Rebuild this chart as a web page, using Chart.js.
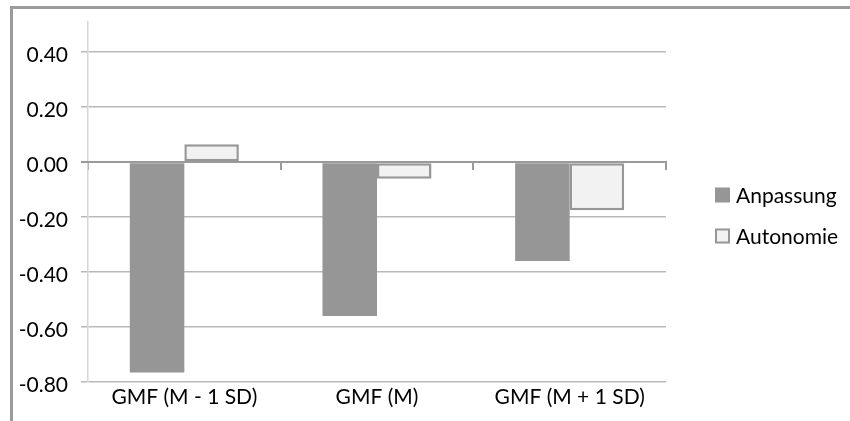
<!DOCTYPE html>
<html>
<head>
<meta charset="utf-8">
<script src="https://cdn.jsdelivr.net/npm/chart.js@4/dist/chart.umd.min.js"></script>
<style>
  html, body { margin: 0; padding: 0; background: #fff; }
  #wrap { position: relative; width: 850px; height: 421px; overflow: hidden; }
  #frame { position: absolute; left: 10px; top: 6px; width: 1000px; height: 1000px;
           border-left: 3px solid #9b9b9b; border-top: 3px solid #9b9b9b; }
  canvas { position: absolute; left: 0; top: 0; }
</style>
</head>
<body>
<div id="wrap">
  <div id="frame"></div>
  <canvas id="chart" width="850" height="421"></canvas>
</div>
<script>
// Categories and series values
const categories = ['GMF (M - 1 SD)', 'GMF (M)', 'GMF (M + 1 SD)'];
const anpassung = [-0.765, -0.56, -0.36];
const autonomie = [0.065, -0.06, -0.175];
const yTicks = [-0.8, -0.6, -0.4, -0.2, 0, 0.2, 0.4];

const FONT = 'Lato, "Open Sans", sans-serif';

// Legend drawn to the right of the plot, one row per dataset
const sideLegend = {
  id: 'sideLegend',
  afterDraw(chart, args, opts) {
    const ctx = chart.ctx;
    chart.data.datasets.forEach((ds, i) => {
      const cy = opts.top + i * opts.spacing;
      const x = opts.left, s = opts.box;
      ctx.save();
      ctx.fillStyle = ds.backgroundColor;
      ctx.fillRect(x, cy - s / 2, s, s);
      if (ds.borderWidth) {
        ctx.strokeStyle = ds.borderColor;
        ctx.lineWidth = 2;
        ctx.strokeRect(x + 1, cy - s / 2 + 1, s - 2, s - 2);
      }
      ctx.fillStyle = '#000';
      ctx.font = opts.fontSize + 'px ' + FONT;
      ctx.textBaseline = 'middle';
      ctx.fillText(ds.label, x + s + opts.gap, cy + 1);
      ctx.restore();
    });
  }
};

new Chart(document.getElementById('chart'), {
  type: 'bar',
  data: {
    labels: categories,
    datasets: [
      {
        label: 'Anpassung',
        data: anpassung,
        backgroundColor: '#969696',
        borderWidth: 0
      },
      {
        label: 'Autonomie',
        data: autonomie,
        backgroundColor: '#f2f2f2',
        borderColor: '#979797',
        borderWidth: 2.5,
        borderSkipped: false
      }
    ]
  },
  options: {
    responsive: false,
    animation: false,
    layout: { padding: { top: 22, right: 184, bottom: 0, left: 0 } },
    datasets: { bar: { categoryPercentage: 0.566, barPercentage: 1 } },
    plugins: {
      legend: { display: false },
      tooltip: { enabled: false },
      sideLegend: { left: 715, top: 195, spacing: 41, box: 15, gap: 6, fontSize: 21 }
    },
    scales: {
      y: {
        min: -0.8,
        max: 0.51,
        afterBuildTicks: s => { s.ticks = yTicks.map(v => ({ value: v })); },
        afterFit: s => { s.width = 88; s.paddingTop = 0; s.paddingBottom = 0; },
        grid: {
          color: c => (c.tick && c.tick.value === 0) ? '#9a9a9a' : '#b9b9b9',
          lineWidth: c => (c.tick && c.tick.value === 0) ? 2 : 1.5,
          tickLength: 7
        },
        border: { color: '#d6d6d6', width: 1.5 },
        ticks: {
          padding: 13,
          labelOffset: 3,
          color: '#000',
          font: { family: FONT, size: 21 },
          callback: v => Number(v).toFixed(2)
        }
      },
      x: {
        type: 'category',
        position: { y: 0 },
        offset: true,
        grid: { offset: true, drawOnChartArea: false, drawTicks: true, tickLength: 7, color: '#9a9a9a', lineWidth: 2 },
        border: { display: true, color: '#9a9a9a', width: 2 },
        ticks: { display: false }
      },
      x2: {
        type: 'category',
        position: 'bottom',
        offset: true,
        grid: { display: false },
        border: { display: false },
        afterFit: s => { s.height = 39; },
        ticks: {
          padding: -5,
          maxRotation: 0,
          autoSkip: false,
          color: '#000',
          font: { family: FONT, size: 21 }
        }
      }
    }
  },
  plugins: [sideLegend]
});
</script>
</body>
</html>
